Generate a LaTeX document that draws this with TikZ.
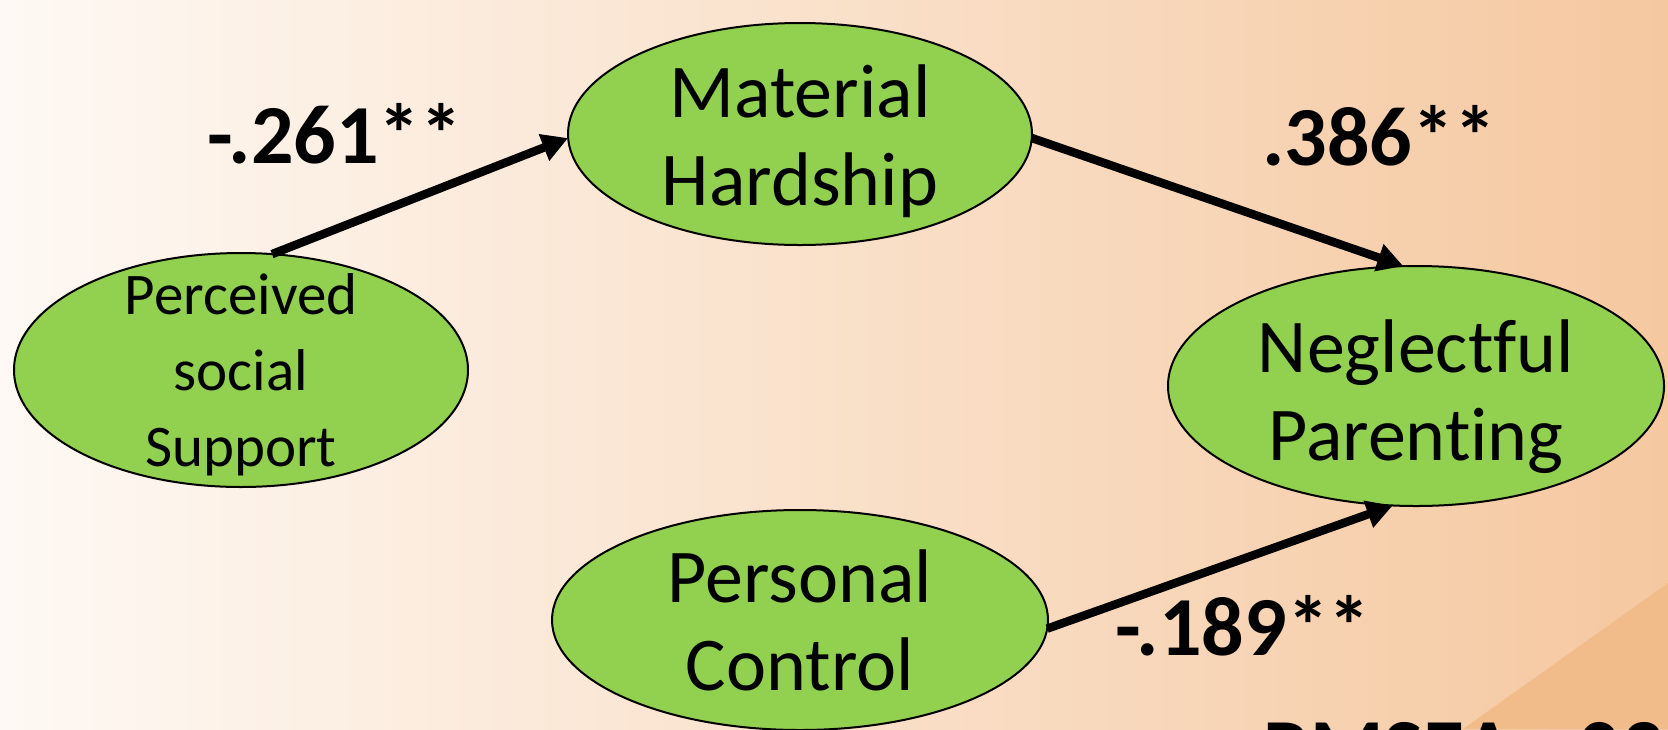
\documentclass[tikz,border=0pt]{standalone}
\usepackage{fontspec}
\setmainfont{Carlito}[Ligatures=NoCommon]
\usetikzlibrary{shapes.geometric,arrows.meta}
\definecolor{bgleft}{RGB}{254,249,244}
\definecolor{bgright}{RGB}{245,200,160}
\definecolor{wedge}{RGB}{242,187,138}
\definecolor{nodegreen}{RGB}{146,208,80}
\tikzset{
  oval/.style={ellipse, draw=black, line width=2pt, fill=nodegreen, inner sep=0pt, outer sep=0pt},
  ovaltext/.style={align=center, inner sep=0pt, font=\fontsize{76}{88}\selectfont},
  smalltext/.style={align=center, inner sep=0pt, font=\fontsize{59}{76}\selectfont},
  coef/.style={anchor=base, inner sep=0pt, font=\bfseries\fontsize{84}{96}\selectfont},
  path/.style={line width=8.5pt, -{Triangle[length=26pt,width=27pt]}}
}
\begin{document}
\begin{tikzpicture}[x=1pt,y=-1pt]
\useasboundingbox (0,0) rectangle (1668,729);
\clip (0,0) rectangle (1668,729);
\shade[left color=bgleft, right color=bgright] (0,0) rectangle (1668,729);
\fill[wedge] (1668,583) -- (1463,729) -- (1668,729) -- cycle;

\node[oval, minimum width=454pt, minimum height=234pt] (pss) at (241,370) {};
\node[oval, minimum width=464pt, minimum height=222pt] (mh) at (800,134) {};
\node[oval, minimum width=496pt, minimum height=240pt] (np) at (1416,386) {};
\node[oval, minimum width=496pt, minimum height=220pt] (pc) at (800,620) {};

\node[smalltext] (pssT) at (241,375) {Perceived\\social\\Support};
\node[ovaltext] (mhT) at (800,141) {Material\\Hardship};
\node[ovaltext] (npT) at (1416,397) {Neglectful\\Parenting};
\node[ovaltext] (pcT) at (800,620) {Personal\\Control};

\draw[path] (pss.75) -- (mh.181);
\draw[path] (mh.-1) -- (np.96);
\draw[path] (pc.-2) -- (np.259);

\node[coef] (c1) at (335,163) {-.261**};
\node[coef] (c2) at (1379,165) {.386**};
\node[coef] (c3) at (1243,655) {-.189**};
\node[coef, anchor=base west] (fit) at (1263,777) {RMSEA=.03};
\end{tikzpicture}
\end{document}
